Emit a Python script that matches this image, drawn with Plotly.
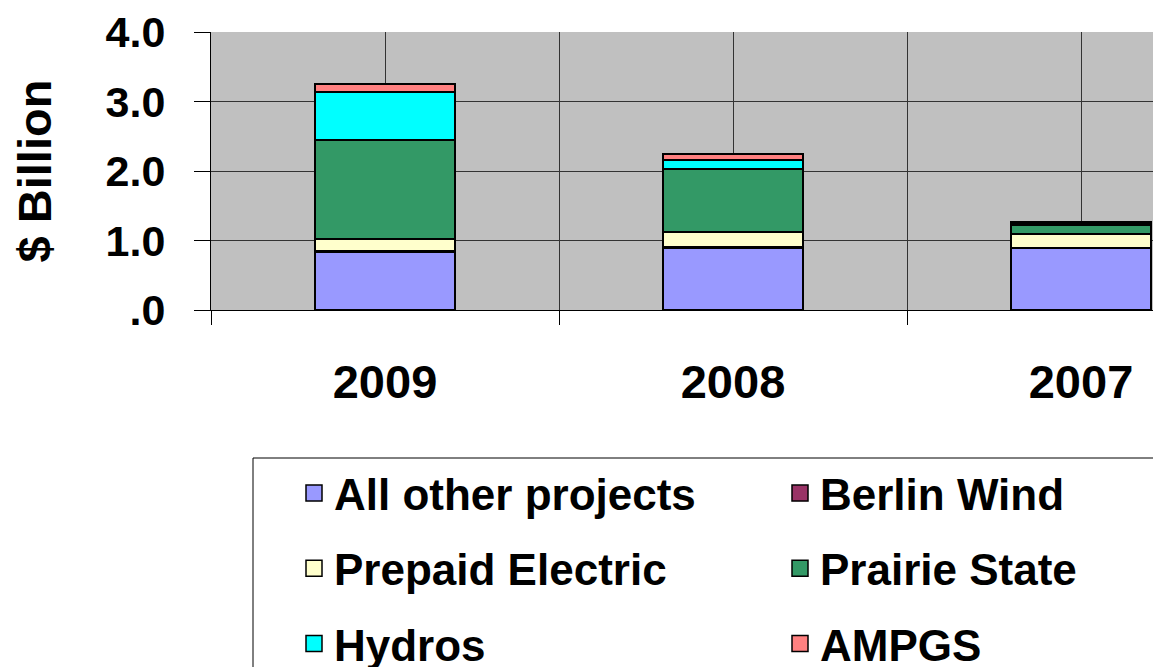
import plotly.graph_objects as go

# ---------------- data ----------------
years = ["2009", "2008", "2007"]
series_names = ["All other projects", "Berlin Wind", "Prepaid Electric",
                "Prairie State", "Hydros", "AMPGS"]
all_other = [0.84, 0.89, 0.89]
berlin_wind = [0.01, 0.01, 0.00]
prepaid_electric = [0.17, 0.22, 0.21]
prairie_state = [1.43, 0.91, 0.12]
hydros = [0.69, 0.13, 0.02]
ampgs = [0.11, 0.08, 0.03]
y_tick_vals = [0, 1, 2, 3, 4]
y_tick_text = [".0", "1.0", "2.0", "3.0", "4.0"]

colors = {
    "All other projects": "#9999FF",
    "Berlin Wind": "#993366",
    "Prepaid Electric": "#FFFFCC",
    "Prairie State": "#339966",
    "Hydros": "#00FFFF",
    "AMPGS": "#FF8080",
}
values = {
    "All other projects": all_other,
    "Berlin Wind": berlin_wind,
    "Prepaid Electric": prepaid_electric,
    "Prairie State": prairie_state,
    "Hydros": hydros,
    "AMPGS": ampgs,
}
legend_of = {
    "All other projects": "legend", "Prepaid Electric": "legend", "Hydros": "legend",
    "Berlin Wind": "legend2", "Prairie State": "legend2", "AMPGS": "legend2",
}

FONT = "Arial, 'Liberation Sans', sans-serif"
OFF = 8  # page body margin
W, H = 1161 - OFF, 667 - OFF
L, T, B = 211 - OFF, 32 - OFF, 310 - OFF
R = W  # plot area is cut by the right edge
pw, ph = R - L, B - T

def px_x(p):  # window pixel -> paper x
    return (p - OFF - L) / pw

def px_y(p):  # window pixel -> paper y
    return (B - (p - OFF)) / ph

xpos = list(range(len(years)))

fig = go.Figure()
for name in series_names:
    fig.add_trace(go.Bar(
        x=xpos, y=values[name], name=name, width=0.4,
        marker=dict(color=colors[name], line=dict(color="black", width=2)),
        showlegend=False,
    ))
# legend entries (square swatches)
for name in series_names:
    fig.add_trace(go.Scatter(
        x=[None], y=[None], mode="markers", name=name,
        marker=dict(symbol="square", size=16, color=colors[name],
                    line=dict(color="black", width=1.5)),
        legend=legend_of[name], legendgroup=name, showlegend=True,
    ))

legend_common = dict(
    xanchor="left", yanchor="top", orientation="v",
    bgcolor="rgba(0,0,0,0)", borderwidth=0,
    font=dict(size=44, family=FONT, weight="bold"),
    tracegroupgap=15, traceorder="grouped",
)

fig.update_layout(
    barmode="stack",
    width=W, height=H,
    margin=dict(l=L, r=0, t=T, b=H - B, autoexpand=False),
    paper_bgcolor="white",
    plot_bgcolor="#C0C0C0",
    font=dict(family=FONT, color="black", weight="bold"),
    xaxis=dict(
        range=[-0.5, -0.5 + pw / 348.0],
        tickmode="array", tickvals=xpos, ticktext=years,
        ticks="", showgrid=True, gridcolor="#333333", gridwidth=1,
        showline=True, linecolor="black", linewidth=1,
        tickfont=dict(size=47, family=FONT, weight="bold"),
        ticklabelstandoff=31,
        zeroline=False,
        minor=dict(tickmode="array", tickvals=[-0.5, 0.5, 1.5],
                   showgrid=True, gridcolor="#333333", gridwidth=1,
                   ticks="outside", ticklen=14, tickcolor="black", tickwidth=1),
    ),
    yaxis=dict(
        range=[0, 4], tickmode="array", tickvals=y_tick_vals, ticktext=y_tick_text,
        ticks="outside", ticklen=16, tickcolor="black", tickwidth=1,
        showgrid=True, gridcolor="#333333", gridwidth=1,
        showline=True, linecolor="black", linewidth=1, zeroline=False,
        tickfont=dict(size=43, family=FONT, weight="bold"),
        ticklabelstandoff=20,
        title=dict(text="$ Billion", font=dict(size=47, family=FONT, weight="bold"),
                   standoff=52),
    ),
    legend=dict(x=px_x(294), y=px_y(458), **legend_common),
    legend2=dict(x=px_x(780), y=px_y(458), **legend_common),
    shapes=[dict(type="rect", xref="paper", yref="paper",
                 x0=px_x(253), x1=px_x(1161 + 20), y0=px_y(458), y1=px_y(667 + 30),
                 line=dict(color="black", width=1), fillcolor="rgba(0,0,0,0)",
                 layer="above")],
)

fig.write_html("out.html")
